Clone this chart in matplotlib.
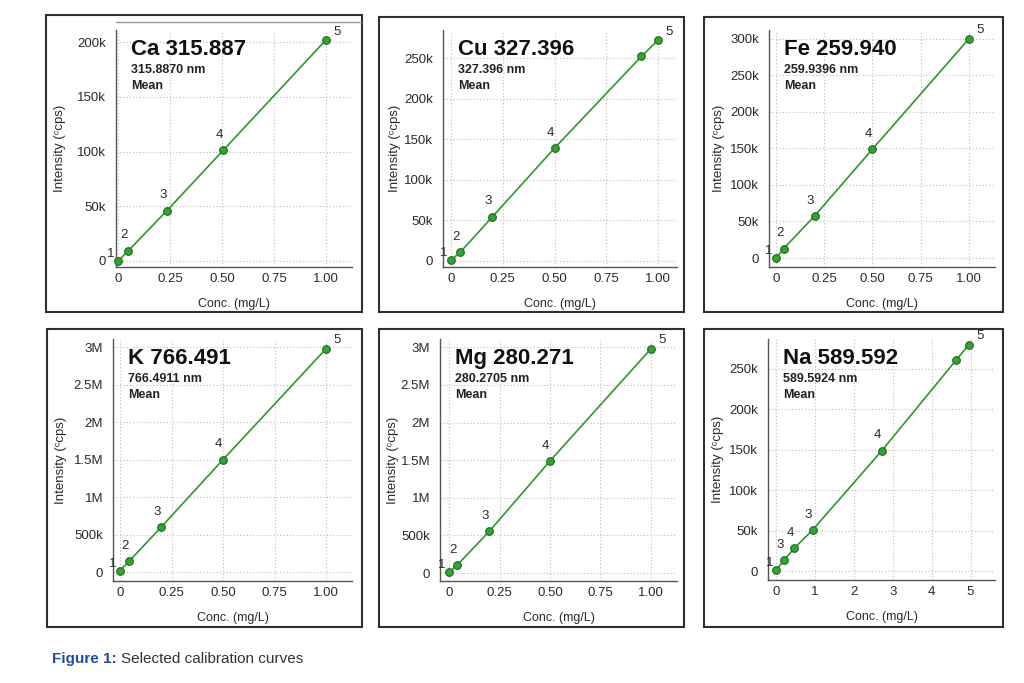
import matplotlib
matplotlib.use("Agg")
import matplotlib.pyplot as plt
from matplotlib.lines import Line2D
from matplotlib.patches import Rectangle
from matplotlib.ticker import FuncFormatter, MultipleLocator

plt.rcParams['font.family'] = ['Liberation Sans', 'DejaVu Sans']

# calibration data
ca_x = [0, 0.05, 0.235, 0.505, 1.0]
ca_y = [0, 9.5e3, 46e3, 101e3, 202e3]
ca_lbl = ['1', '2', '3', '4', '5']

cu_x = [0, 0.045, 0.2, 0.5, 0.92, 1.0]
cu_y = [1e3, 11e3, 54.5e3, 139e3, 252e3, 272e3]
cu_lbl = ['1', '2', '3', '4', '', '5']

fe_x = [0, 0.04, 0.2, 0.5, 1.0]
fe_y = [0, 12.8e3, 57.5e3, 149e3, 300e3]
fe_lbl = ['1', '2', '3', '4', '5']

k_x = [0, 0.045, 0.2, 0.5, 1.0]
k_y = [0.02e6, 0.146e6, 0.60e6, 1.50e6, 2.98e6]
k_lbl = ['1', '2', '3', '4', '5']

mg_x = [0, 0.04, 0.2, 0.5, 1.0]
mg_y = [0.01e6, 0.106e6, 0.556e6, 1.49e6, 2.98e6]
mg_lbl = ['1', '2', '3', '4', '5']

na_x = [0, 0.21, 0.46, 0.94, 2.72, 4.63, 4.96]
na_y = [1e3, 14e3, 28e3, 51e3, 149e3, 261e3, 280e3]
na_lbl = ['1', '3', '4', '3', '4', '', '5']

titles = ['Ca 315.887', 'Cu 327.396', 'Fe 259.940', 'K 766.491', 'Mg 280.271', 'Na 589.592']
wavelengths = ['315.8870 nm', '327.396 nm', '259.9396 nm', '766.4911 nm', '280.2705 nm', '589.5924 nm']

W, H = 1024, 683
fig = plt.figure(figsize=(W / 100, H / 100), dpi=100)


def kfmt(v, pos):
    if abs(v) < 1e-9:
        return '0'
    if abs(v) >= 1e6:
        s = '%g' % (v / 1e6)
        return s + 'M'
    return '%gk' % (v / 1e3)


def xfmt_frac(v, pos):
    if abs(v) < 1e-9:
        return '0'
    return '%.2f' % v


def xfmt_int(v, pos):
    return '%d' % round(v)


# panel layout in pixels: axes box (left, bottom, right, top), frame box, ylabel offset
panels = [
    dict(ax=(116, 267, 352, 30), frame=(46, 15, 362, 312), xlim=(-0.01, 1.125), ylim=(-5.5e3, 211e3),
         xstep=0.25, ystep=50e3, xf=xfmt_frac, yl=50),
    dict(ax=(443, 267, 677, 30), frame=(379, 17, 684, 312), xlim=(-0.039, 1.092), ylim=(-7.4e3, 284.5e3),
         xstep=0.25, ystep=50e3, xf=xfmt_frac, yl=42),
    dict(ax=(769, 267, 995, 30), frame=(704, 17, 1003, 312), xlim=(-0.036, 1.135), ylim=(-12.3e3, 312e3),
         xstep=0.25, ystep=50e3, xf=xfmt_frac, yl=44),
    dict(ax=(113, 581, 352, 339), frame=(47, 329, 362, 627), xlim=(-0.034, 1.126), ylim=(-0.12e6, 3.11e6),
         xstep=0.25, ystep=0.5e6, xf=xfmt_frac, yl=46),
    dict(ax=(440, 581, 677, 339), frame=(379, 329, 684, 627), xlim=(-0.045, 1.129), ylim=(-0.106e6, 3.11e6),
         xstep=0.25, ystep=0.5e6, xf=xfmt_frac, yl=41),
    dict(ax=(768, 580, 995, 339), frame=(704, 329, 1003, 627), xlim=(-0.21, 5.63), ylim=(-11e3, 287e3),
         xstep=1, ystep=50e3, xf=xfmt_int, yl=44),
]
series = [(ca_x, ca_y, ca_lbl), (cu_x, cu_y, cu_lbl), (fe_x, fe_y, fe_lbl),
          (k_x, k_y, k_lbl), (mg_x, mg_y, mg_lbl), (na_x, na_y, na_lbl)]

green = '#2e962e'
txt = '#2a2a2a'

for p, (xs, ys, lbls), title, wl in zip(panels, series, titles, wavelengths):
    l, b, r, t = p['ax']
    fl, ft, fr, fb = p['frame']
    fig.patches.append(Rectangle((fl / W, 1 - fb / H), (fr - fl) / W, (fb - ft) / H,
                                 transform=fig.transFigure, fill=False, lw=1.5, ec='#2f2f2f'))
    w_px, h_px = r - l, b - t
    ax = fig.add_axes([l / W, 1 - b / H, w_px / W, h_px / H])
    ax.set_xlim(*p['xlim'])
    ax.set_ylim(*p['ylim'])
    ax.xaxis.set_major_locator(MultipleLocator(p['xstep']))
    ax.yaxis.set_major_locator(MultipleLocator(p['ystep']))
    ax.xaxis.set_major_formatter(FuncFormatter(p['xf']))
    ax.yaxis.set_major_formatter(FuncFormatter(kfmt))
    ax.tick_params(length=0, labelsize=9.5, colors=txt, pad=4)
    ax.tick_params(axis='y', pad=7)
    for s in ('top', 'right'):
        ax.spines[s].set_visible(False)
    for s in ('left', 'bottom'):
        ax.spines[s].set_color('#555555')
        ax.spines[s].set_linewidth(1.0)
    ax.grid(True, ls=(0, (1, 2)), color='#bdbdbd', lw=0.8)
    ax.set_axisbelow(True)

    ax.set_xlabel('Conc. (mg/L)', fontsize=9, color=txt)
    ax.set_ylabel('Intensity (ᶜcps)', fontsize=9.5, color=txt)
    ax.xaxis.set_label_coords(0.5, -31 / h_px)
    ax.yaxis.set_label_coords(-p['yl'] / w_px, 0.5)

    ax.plot(xs, ys, color=green, lw=1.2, marker='o', ms=5.5,
            mfc='#33a333', mec='#1d6b1d', mew=0.8, clip_on=False, zorder=3)
    n = len(xs)
    for i, (x, y, lab) in enumerate(zip(xs, ys, lbls)):
        if not lab:
            continue
        if i == 0:
            off = (-5, 5)
        elif i == n - 1:
            off = (8, 6)
        else:
            off = (-3, 11)
        ax.annotate(lab, (x, y), xytext=off, textcoords='offset points',
                    fontsize=9.5, color=txt, ha='center', va='center', zorder=4)

    ax.annotate(title, (0, 1), xycoords='axes fraction', xytext=(11, -18), textcoords='offset points',
                fontsize=16, fontweight='bold', color='#111111', va='baseline', ha='left')
    ax.annotate(wl, (0, 1), xycoords='axes fraction', xytext=(11, -31), textcoords='offset points',
                fontsize=9, fontweight='bold', color='#222222', va='baseline', ha='left')
    ax.annotate('Mean', (0, 1), xycoords='axes fraction', xytext=(11, -42.5), textcoords='offset points',
                fontsize=9, fontweight='bold', color='#222222', va='baseline', ha='left')

# stray gray line above the first panel
fig.add_artist(Line2D([116 / W, 361 / W], [1 - 22 / H, 1 - 22 / H], color='#9a9a9a', lw=1.0))

# caption
t1 = fig.text(52 / W, 1 - 663 / H, 'Figure 1:', fontsize=11, fontweight='bold', color='#1f4f9e',
              va='baseline', ha='left')
fig.canvas.draw()
bb = t1.get_window_extent()
fig.text(bb.x1 / W + 4 / W, 1 - 663 / H, 'Selected calibration curves', fontsize=11, color='#333333',
         va='baseline', ha='left')

fig.savefig('out.png', dpi=100)
